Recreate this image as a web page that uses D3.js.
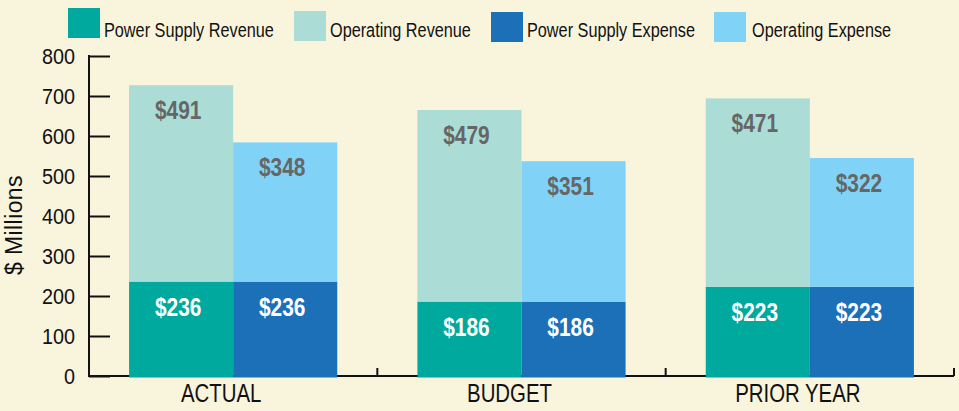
<!DOCTYPE html>
<html><head><meta charset="utf-8">
<script src="https://cdn.jsdelivr.net/npm/d3@7"></script>
<style>
html,body{margin:0;padding:0;background:#F9F4DC;}
text{font-family:"Liberation Sans",Arial,sans-serif;}
</style></head>
<body><svg id="c" width="959" height="411"></svg>
<script>
const categories = ["ACTUAL", "BUDGET", "PRIOR YEAR"];
const powerSupplyRevenue = [236, 186, 223];
const operatingRevenue = [491, 479, 471];
const powerSupplyExpense = [236, 186, 223];
const operatingExpense = [348, 351, 322];
const seriesNames = ["Power Supply Revenue", "Operating Revenue", "Power Supply Expense", "Operating Expense"];
const colors = ["#00A99D", "#ABDDD6", "#1C70B8", "#80D3F7"];
const yTicks = [0, 100, 200, 300, 400, 500, 600, 700, 800];

const svg = d3.select("#c");
const W = 959, H = 411;
const mLeft = 89, mRight = 954, mTop = 56, mBottom = 376;

// condensed-look text placement
function place(sel, xf, yf, s) {
  sel.attr("transform", (d, i) => `translate(${xf(d, i)},${yf(d, i)}) scale(${s},1)`);
}

const x = d3.scaleBand().domain(categories).range([mLeft, mRight]).padding(0);
const y = d3.scaleLinear().domain([0, 800]).range([mBottom, mTop]);
const pairW = x.bandwidth() * 0.722;
const inner = d3.scaleBand().domain(["rev", "exp"]).range([0, pairW]).padding(0);

svg.append("rect").attr("width", W).attr("height", H).attr("fill", "#F9F4DC");

// y axis
const yAxis = d3.axisRight(y).tickValues(yTicks).tickSize(21).tickFormat("");
const gy = svg.append("g").attr("transform", `translate(${mLeft},0)`).call(yAxis);
gy.select(".domain").remove();
gy.selectAll(".tick line").attr("stroke", "#111").attr("stroke-width", 2);
svg.append("line").attr("x1", mLeft).attr("x2", mLeft).attr("y1", y(800) - 1).attr("y2", y(0) + 1)
  .attr("stroke", "#111").attr("stroke-width", 2);
svg.append("g").selectAll("text").data(yTicks).join("text")
  .attr("dy", "0.36em").attr("text-anchor", "end").attr("font-size", 22.5).attr("fill", "#111")
  .text(d => d)
  .call(place, () => 75, d => y(d), 0.88);

// x axis line + separator ticks
svg.append("line").attr("x1", mLeft).attr("x2", mRight).attr("y1", y(0)).attr("y2", y(0))
  .attr("stroke", "#111").attr("stroke-width", 2);
svg.append("g").selectAll("line").data(categories).join("line")
  .attr("x1", d => x(d) + x.bandwidth()).attr("x2", d => x(d) + x.bandwidth())
  .attr("y1", y(0)).attr("y2", y(0) - 8).attr("stroke", "#111").attr("stroke-width", 2);

// bars
const rows = categories.map((c, i) => ({
  cat: c,
  stacks: [
    { key: "rev", segs: [{ v: powerSupplyRevenue[i], c: colors[0], lab: "#fff" }, { v: operatingRevenue[i], c: colors[1], lab: "#666" }] },
    { key: "exp", segs: [{ v: powerSupplyExpense[i], c: colors[2], lab: "#fff" }, { v: operatingExpense[i], c: colors[3], lab: "#666" }] }
  ]
}));

rows.forEach(r => {
  const x0 = x(r.cat) + (x.bandwidth() - pairW) / 2;
  r.stacks.forEach(s => {
    let base = 0;
    s.segs.forEach(seg => {
      const y0 = y(base), y1 = y(base + seg.v);
      const bx = x0 + inner(s.key);
      svg.append("rect").attr("x", bx).attr("y", y1)
        .attr("width", inner.bandwidth()).attr("height", y0 - y1 + (base === 0 ? 1.5 : 0))
        .attr("fill", seg.c);
      svg.append("text").datum(seg)
        .attr("text-anchor", "middle").attr("font-size", 25.5).attr("font-weight", "bold")
        .attr("fill", seg.lab).text("$" + seg.v)
        .call(place, () => bx + inner.bandwidth() / 2 - 3, () => y1 + 34, 0.82);
      base += seg.v;
    });
  });
});

// x labels
svg.append("g").selectAll("text").data(categories).join("text")
  .attr("text-anchor", "middle").attr("font-size", 26.5).attr("fill", "#111").text(d => d)
  .call(place, d => x(d) + x.bandwidth() / 2 - 12, () => 401.5, 0.77);

// y title
svg.append("text").attr("transform", "translate(22,225) rotate(-90)")
  .attr("text-anchor", "middle").attr("font-size", 23).attr("letter-spacing", "0.4px")
  .attr("fill", "#111").text("$ Millions");

// legend
const legX = [68, 294, 491, 714];
const legY = [8, 11, 12, 12];
const lg = svg.append("g").selectAll("g").data(seriesNames).join("g")
  .attr("transform", (d, i) => `translate(${legX[i]},${legY[i]})`);
lg.append("rect").attr("width", 32).attr("height", 30).attr("fill", (d, i) => colors[i]);
lg.append("text").attr("font-size", 19.5).attr("fill", "#111").text(d => d)
  .call(place, (d, i) => (i === 3 ? 38 : 36), (d, i) => 37 - legY[i], 0.834);
</script></body></html>
